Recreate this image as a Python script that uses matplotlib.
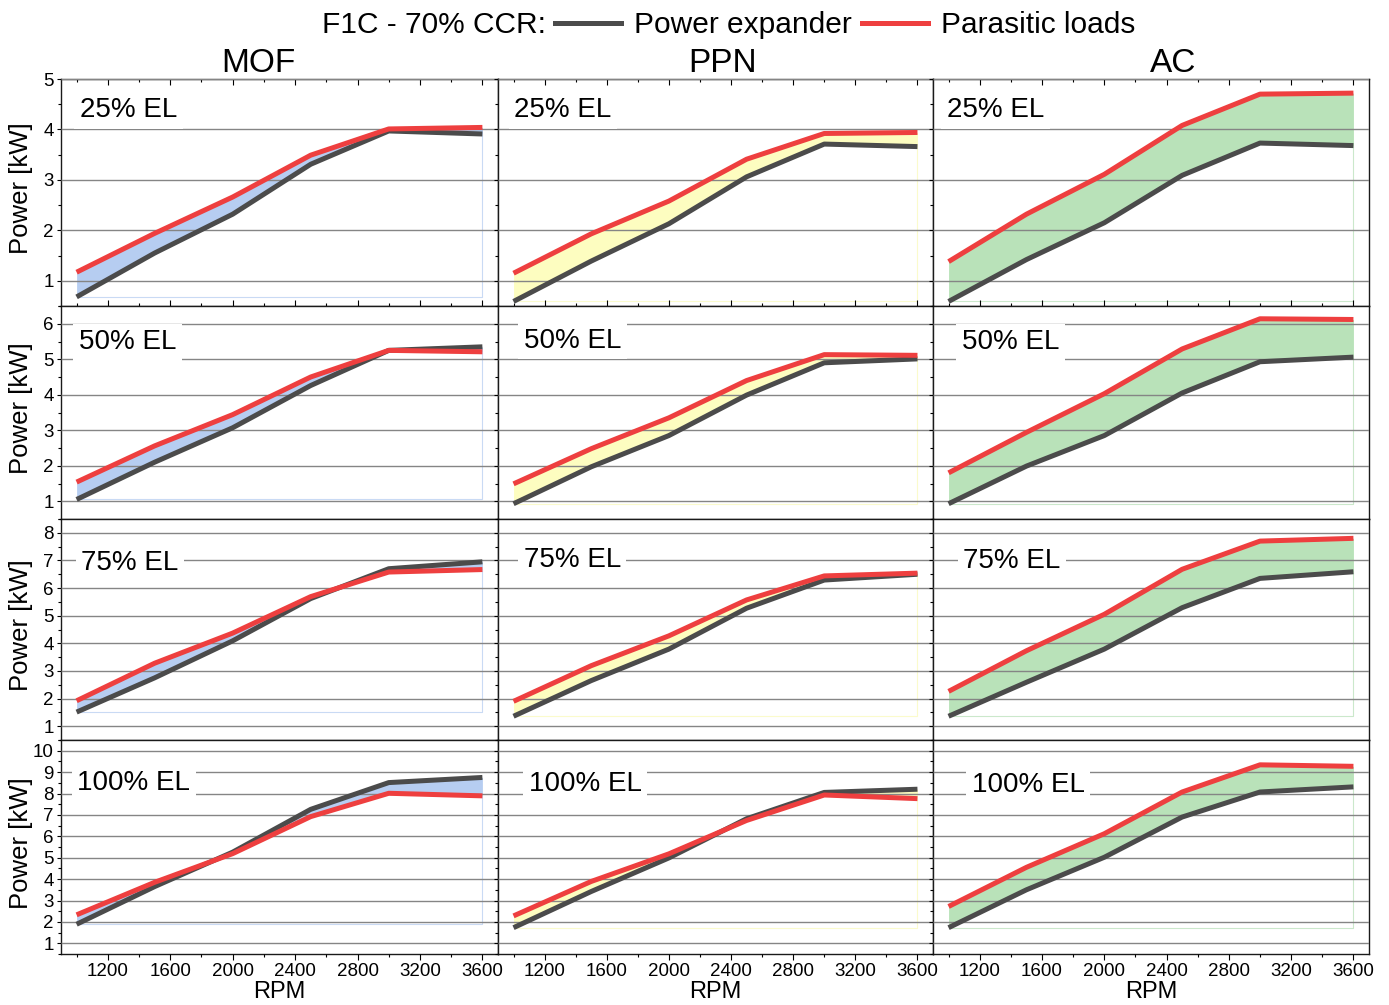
import matplotlib.pyplot as plt
from matplotlib.ticker import MultipleLocator
from matplotlib.lines import Line2D

plt.rcParams['font.family'] = ['Liberation Sans', 'DejaVu Sans']

#------------------------------------------------------------------------------
# Data: engine speed and power per sorbent, one row per engine load
#------------------------------------------------------------------------------
rpm = [1000, 1500, 2000, 2500, 3000, 3600]
materials = ['MOF', 'PPN', 'AC']
loads = ['25% EL', '50% EL', '75% EL', '100% EL']

exp_mof = [[0.68, 1.55, 2.32, 3.31, 3.97, 3.91],
           [1.05, 2.10, 3.07, 4.26, 5.25, 5.35],
           [1.51, 2.75, 4.09, 5.62, 6.70, 6.95],
           [1.89, 3.65, 5.26, 7.26, 8.51, 8.75]]
par_mof = [[1.17, 1.94, 2.66, 3.49, 4.01, 4.04],
           [1.54, 2.56, 3.44, 4.50, 5.25, 5.21],
           [1.92, 3.28, 4.37, 5.69, 6.58, 6.67],
           [2.33, 3.85, 5.19, 6.92, 8.01, 7.89]]

exp_ppn = [[0.59, 1.39, 2.13, 3.06, 3.71, 3.66],
           [0.93, 1.97, 2.85, 3.99, 4.90, 5.01],
           [1.36, 2.65, 3.79, 5.27, 6.29, 6.50],
           [1.73, 3.42, 4.99, 6.82, 8.05, 8.20]]
par_ppn = [[1.15, 1.93, 2.58, 3.41, 3.92, 3.94],
           [1.49, 2.48, 3.35, 4.40, 5.13, 5.11],
           [1.90, 3.19, 4.27, 5.57, 6.44, 6.54],
           [2.28, 3.89, 5.18, 6.74, 7.93, 7.76]]

exp_ac = [[0.59, 1.42, 2.15, 3.09, 3.73, 3.68],
          [0.93, 1.99, 2.85, 4.05, 4.93, 5.06],
          [1.36, 2.59, 3.79, 5.29, 6.35, 6.59],
          [1.73, 3.50, 5.02, 6.90, 8.07, 8.31]]
par_ac = [[1.38, 2.32, 3.11, 4.08, 4.70, 4.72],
          [1.80, 2.94, 4.03, 5.29, 6.14, 6.12],
          [2.26, 3.73, 5.05, 6.68, 7.70, 7.80],
          [2.72, 4.55, 6.12, 8.07, 9.34, 9.27]]

expander = [exp_mof, exp_ppn, exp_ac]
parasitic = [par_mof, par_ppn, par_ac]
ytop = [5.0, 6.5, 8.5, 10.5]

#------------------------------------------------------------------------------
# Style
#------------------------------------------------------------------------------
c_exp = '#4b4b4b'
c_par = '#ee3f3f'
fill_colors = ['#b6cdf1', '#fdfdc0', '#b9e2b9']
edge_colors = ['#c9daf4', '#fbfbcc', '#cbe8cb']

# label anchor (axes fraction) per row, per column
label_pos = [[(0.043, 0.862), (0.037, 0.862), (0.032, 0.862)],
             [(0.041, 0.830), (0.059, 0.836), (0.066, 0.829)],
             [(0.046, 0.802), (0.059, 0.816), (0.069, 0.811)],
             [(0.037, 0.800), (0.071, 0.793), (0.089, 0.790)]]

W, H = 1389, 1005
fig = plt.figure(figsize=(W / 100, H / 100), dpi=100)

col_left = [61, 498, 933]
col_width = [437, 435, 436]
row_top = [79, 306, 519, 740]
row_height = [227, 213, 221, 214]

#------------------------------------------------------------------------------
# Panels
#------------------------------------------------------------------------------
for r in range(4):
    for c in range(3):
        ax = fig.add_axes([col_left[c] / W, 1 - (row_top[r] + row_height[r]) / H,
                           col_width[c] / W, row_height[r] / H])
        exp = expander[c][r]
        par = parasitic[c][r]

        ax.fill_between(rpm, exp, par, color=fill_colors[c], lw=0, zorder=2)
        lo = min(min(exp), min(par))
        ax.plot([rpm[0], rpm[-1], rpm[-1]], [lo, lo, min(exp[-1], par[-1])],
                color=edge_colors[c], lw=0.8, zorder=2)
        ax.plot(rpm, exp, color=c_exp, lw=3.6, solid_capstyle='butt', zorder=3)
        ax.plot(rpm, par, color=c_par, lw=3.6, solid_capstyle='butt', zorder=4)

        ax.set_xlim(900, 3700)
        ax.set_ylim(0.5, ytop[r])
        ax.xaxis.set_major_locator(MultipleLocator(400))
        ax.xaxis.set_minor_locator(MultipleLocator(200))
        ax.yaxis.set_major_locator(MultipleLocator(1))
        ax.yaxis.set_minor_locator(MultipleLocator(0.5))
        ax.set_axisbelow(False)
        ax.yaxis.grid(True, which='major', color='#858585', lw=1.0)

        for s in ax.spines.values():
            s.set_linewidth(1.0)
            s.set_color('#1a1a1a')

        ax.tick_params(axis='y', which='both', direction='out', left=True, right=False,
                       labelleft=(c == 0), labelsize=13.5, pad=2, width=0.8)
        ax.tick_params(axis='y', which='major', length=3.2)
        ax.tick_params(axis='y', which='minor', length=2.0)
        if r == 0:
            ax.tick_params(axis='x', which='both', direction='in', top=True, bottom=True,
                           labelbottom=False, width=0.8)
        else:
            ax.tick_params(axis='x', which='both', direction='out', top=False, bottom=True,
                           labelbottom=(r == 3), labelsize=13.5, pad=2.5, width=0.8)
        ax.tick_params(axis='x', which='major', length=4.3)
        ax.tick_params(axis='x', which='minor', length=2.4)

        if c == 0:
            ax.set_ylabel('Power [kW]', fontsize=18.5)
            ax.yaxis.set_label_coords(-0.063, 0.52)
        if r == 3:
            ax.set_xlabel('RPM', fontsize=17, labelpad=0.5)

        lx, ly = label_pos[r][c]
        ax.text(lx, ly, loads[r], transform=ax.transAxes, fontsize=20,
                ha='left', va='center', zorder=5,
                bbox=dict(boxstyle='square,pad=0.2', fc='white', ec='none'))

#------------------------------------------------------------------------------
# Column titles and legend
#------------------------------------------------------------------------------
title_x = [258, 723, 1173]
for c in range(3):
    fig.text(title_x[c] / W, 1 - 63 / H, materials[c], ha='center', va='center',
             fontsize=24)

fig.text(546 / W, 1 - 25 / H, 'F1C - 70% CCR:', ha='right', va='center', fontsize=21.5)
handles = [Line2D([], [], color=c_exp, lw=3.6), Line2D([], [], color=c_par, lw=3.6)]
fig.legend(handles, ['Power expander', 'Parasitic loads'], loc='center left',
           bbox_to_anchor=(555 / W, 1 - 25 / H), ncol=2, frameon=False,
           fontsize=21.5, handlelength=2.2, handletextpad=0.45, columnspacing=0.35,
           borderpad=0, borderaxespad=0)

fig.savefig('out.png', dpi=100)
